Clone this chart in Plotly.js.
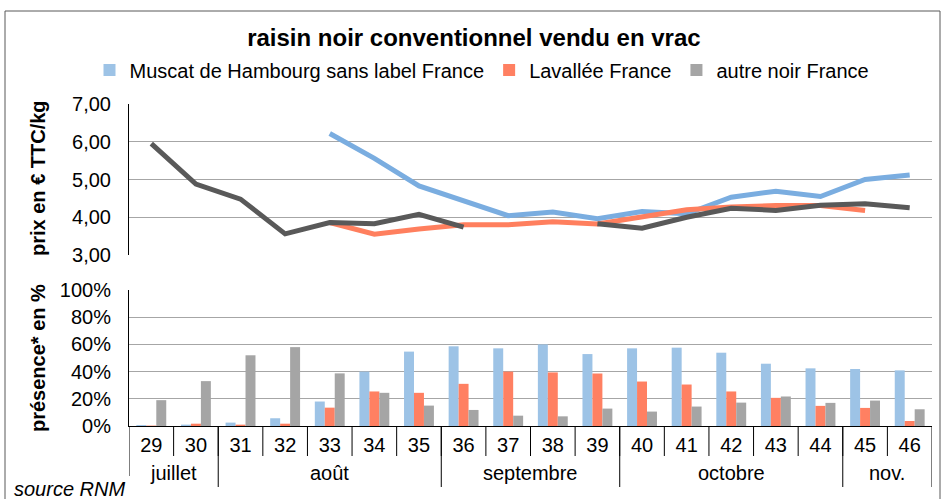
<!DOCTYPE html>
<html>
<head>
<meta charset="utf-8">
<script src="https://cdn.plot.ly/plotly-3.0.1.min.js"></script>
<style>
  html, body { margin: 0; padding: 0; background: #fff; }
  #chart { width: 944px; height: 499px; }
</style>
</head>
<body>
<div id="chart"></div>
<script>
// Semaines et mois
const weeks = ['29', '30', '31', '32', '33', '34', '35', '36', '37', '38', '39', '40', '41', '42', '43', '44', '45', '46']
const months = ['juillet', 'août', 'septembre', 'octobre', 'nov.']
const monthWeeks = [2, 5, 4, 5, 2]

const seriesNames = ['Muscat de Hambourg sans label France', 'Lavallée France', 'autre noir France']

// Prix en € TTC/kg
const priceMuscat = [null, null, null, null, 6.22, 5.56, 4.83, 4.43, 4.04, 4.14, 3.96, 4.15, 4.09, 4.53, 4.69, 4.55, 5.0, 5.12]
const priceLavallee = [null, null, null, null, 3.86, 3.55, 3.69, 3.8, 3.8, 3.88, 3.82, 4.0, 4.2, 4.27, 4.31, 4.31, 4.18, null]
const priceAutre = [5.95, 4.88, 4.48, 3.56, 3.86, 3.83, 4.08, 3.74, null, null, 3.83, 3.71, 4.0, 4.24, 4.18, 4.32, 4.36, 4.25]

// Présence en %
const presMuscat = [0.007, 0.01, 0.025, 0.057, 0.18, 0.40, 0.547, 0.586, 0.571, 0.60, 0.529, 0.571, 0.576, 0.539, 0.458, 0.424, 0.419, 0.409]
const presLavallee = [0.003, 0.017, 0.01, 0.017, 0.135, 0.254, 0.244, 0.31, 0.40, 0.394, 0.386, 0.327, 0.305, 0.254, 0.207, 0.148, 0.133, 0.037]
const presAutre = [0.19, 0.33, 0.52, 0.58, 0.387, 0.244, 0.15, 0.118, 0.076, 0.071, 0.128, 0.106, 0.143, 0.172, 0.217, 0.17, 0.187, 0.123]

const lineColors = ['#7AADE0', '#FF7F5E', '#595959']
const barColors = ['#9DC3E6', '#FF8062', '#A5A5A5']
const FONT = 'Liberation Sans, Arial, sans-serif'
const FS = 20

// pixel -> paper helpers (plot area 129..932 x 104..426)
const px = x => (x - 129) / 803
const py = y => (426 - y) / 322

const prices = [priceMuscat, priceLavallee, priceAutre]
const presences = [presMuscat, presLavallee, presAutre]

const traces = []
presences.forEach((vals, i) => {
  traces.push({
    x: weeks,
    y: vals,
    type: 'bar',
    name: seriesNames[i],
    marker: { color: barColors[i], line: { width: 0 } },
    xaxis: 'x',
    yaxis: 'y',
    hoverinfo: 'skip'
  })
})
prices.forEach((vals, i) => {
  traces.push({
    x: weeks,
    y: vals,
    type: 'scatter',
    mode: 'lines',
    name: seriesNames[i],
    showlegend: false,
    connectgaps: false,
    line: { color: lineColors[i], width: 5 },
    xaxis: 'x',
    yaxis: 'y2',
    hoverinfo: 'skip'
  })
})

// Tableau des semaines / mois sous l'axe
const shapes = []
for (let i = 0; i < weeks.length - 1; i++) {
  shapes.push({
    type: 'line', xref: 'x', yref: 'paper',
    x0: i + 0.5, x1: i + 0.5, y0: py(426), y1: py(456),
    line: { color: '#000', width: 1 }
  })
}
let pos = -0.5
shapes.push({
  type: 'line', xref: 'x', yref: 'paper',
  x0: pos, x1: pos, y0: py(426), y1: py(476),
  line: { color: '#000', width: 1 }
})
const annotations = []
months.forEach((m, i) => {
  const start = pos
  pos += monthWeeks[i]
  shapes.push({
    type: 'line', xref: 'x', yref: 'paper',
    x0: pos, x1: pos, y0: py(426), y1: py(487),
    line: { color: '#000', width: 1 }
  })
  annotations.push({
    text: m, xref: 'x', yref: 'paper',
    x: (start + pos) / 2, y: py(473),
    xanchor: 'center', yanchor: 'middle',
    showarrow: false, font: { family: FONT, size: FS, color: '#000' }
  })
})

// Cadre extérieur
shapes.push({
  type: 'rect', xref: 'paper', yref: 'paper',
  x0: px(5), x1: px(940), y0: py(11), y1: py(505),
  line: { color: '#595959', width: 1 }
})

annotations.push(
  {
    text: '<b>prix en € TTC/kg</b>', xref: 'paper', yref: 'paper',
    x: px(38), y: py(178), xanchor: 'center', yanchor: 'middle',
    textangle: -90, showarrow: false,
    font: { family: FONT, size: FS, color: '#000' }
  },
  {
    text: '<b>présence* en %</b>', xref: 'paper', yref: 'paper',
    x: px(38), y: py(358), xanchor: 'center', yanchor: 'middle',
    textangle: -90, showarrow: false,
    font: { family: FONT, size: FS, color: '#000' }
  },
  {
    text: '<i>source RNM</i>', xref: 'paper', yref: 'paper',
    x: px(12), y: py(489), xanchor: 'left', yanchor: 'middle', showarrow: false,
    font: { family: FONT, size: FS, color: '#000' }
  }
)

const layout = {
  width: 944,
  height: 499,
  margin: { l: 129, r: 12, t: 104, b: 73 },
  paper_bgcolor: '#fff',
  plot_bgcolor: '#fff',
  separators: ', ',
  font: { family: FONT, size: FS, color: '#000' },
  title: {
    text: '<b>raisin noir conventionnel vendu en vrac</b>',
    x: 0.502, xanchor: 'center',
    y: 1 - 38 / 499, yanchor: 'middle',
    font: { family: FONT, size: 24, color: '#000' }
  },
  showlegend: true,
  legend: {
    orientation: 'h',
    x: px(482), xanchor: 'center',
    y: py(70), yanchor: 'middle',
    font: { family: FONT, size: FS, color: '#000' },
    itemwidth: 30
  },
  barmode: 'group',
  bargap: 0.33,
  bargroupgap: 0,
  xaxis: {
    type: 'category',
    anchor: 'y',
    showgrid: false,
    showline: true,
    linecolor: '#000',
    linewidth: 1,
    ticks: '',
    ticklabelstandoff: 1,
    tickfont: { family: FONT, size: FS, color: '#000' },
    range: [-0.5, 17.5],
    fixedrange: true
  },
  yaxis: {
    domain: [0, py(290)],
    range: [0, 1],
    dtick: 0.2,
    tickformat: '.0%',
    showgrid: true,
    gridcolor: '#A6A6A6',
    gridwidth: 1,
    zeroline: false,
    showline: true,
    linecolor: '#000',
    ticks: '',
    ticklabelstandoff: 13,
    tickfont: { family: FONT, size: FS, color: '#000' }
  },
  yaxis2: {
    domain: [py(255), 1],
    range: [3, 7],
    dtick: 1,
    tickformat: '.2f',
    anchor: 'x',
    showgrid: true,
    gridcolor: '#A6A6A6',
    gridwidth: 1,
    zeroline: false,
    showline: true,
    linecolor: '#000',
    ticks: '',
    ticklabelstandoff: 13,
    tickfont: { family: FONT, size: FS, color: '#000' }
  },
  shapes: shapes,
  annotations: annotations
}

Plotly.newPlot('chart', traces, layout, { displayModeBar: false, staticPlot: true })
</script>
</body>
</html>
